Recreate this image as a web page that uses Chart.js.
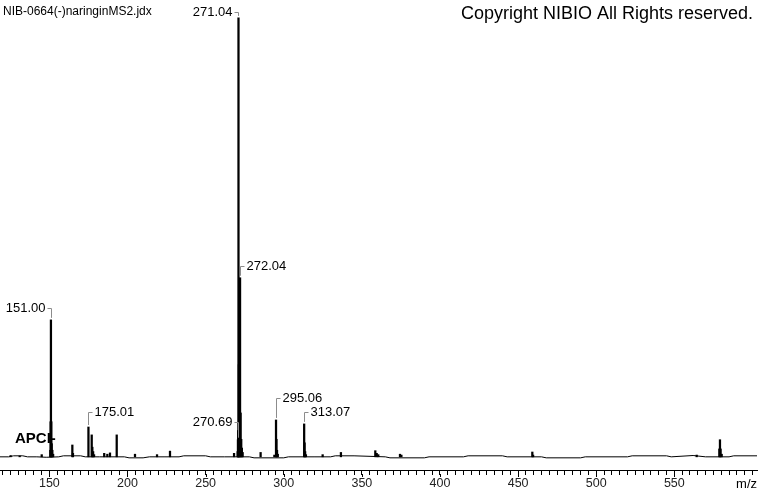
<!DOCTYPE html>
<html>
<head>
<meta charset="utf-8">
<script src="https://cdn.jsdelivr.net/npm/chart.js@4.4.1/dist/chart.umd.min.js"></script>
<style>
html, body { margin: 0; padding: 0; background: #fff; }
#wrap { width: 760px; height: 492px; }
</style>
</head>
<body>
<div id="wrap"><canvas id="myChart" width="760" height="492"></canvas></div>
<script>
// Spectrum data (m/z, relative intensity %)
const peakMz = [125.2, 131.0, 145.1,
    150.6, 150.8, 151.00, 151.25, 151.5, 151.9, 152.4,
    164.7, 165.1,
    175.01, 177.1, 177.5, 178.0, 178.6,
    185.1, 187.1, 188.8, 193.1, 204.8, 218.9, 227.2, 268.2,
    270.5, 270.69, 270.85, 271.04, 271.3, 271.6, 272.04, 272.4, 272.8, 273.2, 273.7,
    285.2, 294.0,
    295.06, 295.35, 295.7, 296.2,
    313.07, 313.35, 313.7, 314.2,
    324.9, 336.6, 358.6, 359.5, 360.5, 374.4, 375.3,
    459.1, 459.6, 564.3,
    578.8, 579.2, 579.6, 580.3];
const peakInt = [0.3, 0.2, 0.5,
    1.5, 8.0, 31.2, 8.0, 3.0, 1.5, 0.6,
    2.7, 0.8,
    6.8, 5.0, 2.2, 1.2, 0.5,
    0.8, 0.6, 0.9, 5.0, 0.6, 0.5, 1.3, 0.8,
    1.2, 3.9, 6.0, 100, 21, 21, 40.8, 10, 4.0, 2.0, 1.0,
    1.0, 0.4,
    8.4, 4.0, 1.5, 0.6,
    7.5, 3.2, 1.2, 0.5,
    0.5, 1.0, 1.4, 0.8, 0.5, 0.6, 0.4,
    1.1, 0.4, 0.4,
    1.8, 3.9, 1.8, 0.6];

// baseline wiggle
const noiseMz = [118.4, 124, 127, 133, 136, 142, 148, 156, 159, 170, 173, 182, 198, 201, 210, 214, 224,
    233, 236, 250, 253, 262, 278, 281, 300, 303, 320, 330, 333, 345, 365, 368, 390, 393, 415, 418,
    440, 443, 465, 468, 490, 493, 520, 523, 545, 548, 562, 570, 585, 588, 602.9];
const noiseInt = [0, 0, 0.23, 0.23, 0, 0, -0.1, 0, 0.23, 0.23, 0, 0, 0, -0.23, -0.23, 0, 0,
    0, 0.23, 0.23, 0, 0, 0, -0.23, -0.23, 0, 0, 0, 0.23, 0.23, 0, -0.23, -0.23, 0, 0, 0.23,
    0.23, 0, 0, -0.23, -0.23, 0, 0, 0.23, 0.23, 0, 0.3, 0, 0, 0.23, 0.23];

// annotated peaks
const labelMz = [151.00, 175.01, 270.69, 271.04, 272.04, 295.06, 313.07];
const labelSide = ['left', 'right', 'left', 'left', 'right', 'right', 'right'];
const labelRise = [12, 15, 18, 6, 12, 22, 12];

const majorTicks = [150, 200, 250, 300, 350, 400, 450, 500, 550];

const fileName = 'NIB-0664(-)naringinMS2.jdx';
const copyright = 'Copyright NIBIO All Rights reserved.';
const ionMode = 'APCI-';

const FONT = '"Liberation Sans", Arial, sans-serif';

const textPlugin = {
    id: 'texts',
    beforeDatasetsDraw(chart) {
        const ctx = chart.ctx;
        ctx.save();
        ctx.fillStyle = '#000';
        ctx.textBaseline = 'middle';
        ctx.font = '12px ' + FONT;
        ctx.fillText(fileName, 3, 12);
        ctx.font = '18px ' + FONT;
        ctx.textAlign = 'right';
        ctx.fillText(copyright, 753, 14);
        ctx.textAlign = 'left';
        ctx.font = 'bold 15px ' + FONT;
        ctx.fillText(ionMode, 15, 439);
        ctx.restore();
    },
    afterDatasetsDraw(chart) {
        const ctx = chart.ctx;
        const xs = chart.scales.x, ys = chart.scales.y;
        ctx.save();
        ctx.font = '13px ' + FONT;
        ctx.textBaseline = 'middle';
        labelMz.forEach((mz, i) => {
            const h = peakInt[peakMz.indexOf(mz)];
            const px = Math.round(xs.getPixelForValue(mz)) + 0.5;
            const top = ys.getPixelForValue(h) - 2;
            const ly = Math.round(top - labelRise[i] + 2) + 0.5;
            const dir = labelSide[i] === 'left' ? -1 : 1;
            ctx.strokeStyle = '#8c8c8c';
            ctx.lineWidth = 1;
            ctx.beginPath();
            ctx.moveTo(px, top);
            ctx.lineTo(px, ly);
            ctx.lineTo(px + dir * 4, ly);
            ctx.stroke();
            ctx.fillStyle = '#000';
            ctx.textAlign = dir < 0 ? 'right' : 'left';
            ctx.fillText(mz.toFixed(2), px + dir * 6, ly);
        });
        ctx.restore();
    },
    afterDraw(chart) {
        const ctx = chart.ctx;
        const xs = chart.scales.x;
        const y0 = chart.chartArea.bottom;
        ctx.save();
        ctx.strokeStyle = '#000';
        ctx.lineWidth = 1;
        ctx.beginPath();
        majorTicks.forEach(v => {
            const px = Math.round(xs.getPixelForValue(v)) + 0.5;
            ctx.moveTo(px, y0 + 4);
            ctx.lineTo(px, y0 + 7);
        });
        ctx.stroke();
        ctx.font = '13px ' + FONT;
        ctx.fillStyle = '#000';
        ctx.textAlign = 'right';
        ctx.textBaseline = 'middle';
        ctx.fillText('m/z', 757, 484);
        ctx.restore();
    }
};

const config = {
    type: 'bar',
    data: {
        datasets: [{
            type: 'line',
            data: noiseMz.map((x, i) => ({ x: x, y: noiseInt[i] })),
            borderColor: '#000',
            borderWidth: 1,
            pointRadius: 0,
            tension: 0
        }, {
            type: 'bar',
            data: peakMz.map((x, i) => ({ x: x, y: peakInt[i] })),
            backgroundColor: '#000',
            borderWidth: 0,
            barThickness: 1.6
        }]
    },
    options: {
        responsive: false,
        animation: false,
        devicePixelRatio: 1,
        layout: { padding: { top: 10, right: 3, left: 0, bottom: 0 } },
        plugins: {
            legend: { display: false },
            title: { display: false },
            tooltip: { enabled: false }
        },
        scales: {
            x: {
                type: 'linear',
                min: 118.4,
                max: 602.9,
                offset: false,
                grid: { display: true, drawOnChartArea: false, offset: false, tickLength: 5, color: '#000', tickColor: '#000' },
                border: { display: true, color: '#000', width: 1 },
                afterBuildTicks: (scale) => {
                    const t = [];
                    for (let v = 120; v <= 600; v += 5) t.push({ value: v });
                    scale.ticks = t;
                },
                afterFit: (scale) => { scale.height = 22; },
                ticks: {
                    autoSkip: false,
                    maxRotation: 0,
                    padding: 1,
                    color: '#222',
                    font: { family: FONT, size: 12.5 },
                    callback: (v) => majorTicks.includes(v) ? String(v) : ''
                }
            },
            y: {
                display: false,
                min: -3,
                max: 101.8
            }
        }
    },
    plugins: [textPlugin]
};

window.onload = function() {
    const ctx = document.getElementById('myChart').getContext('2d');
    const myChart = new Chart(ctx, config);
};
</script>
</body>
</html>
